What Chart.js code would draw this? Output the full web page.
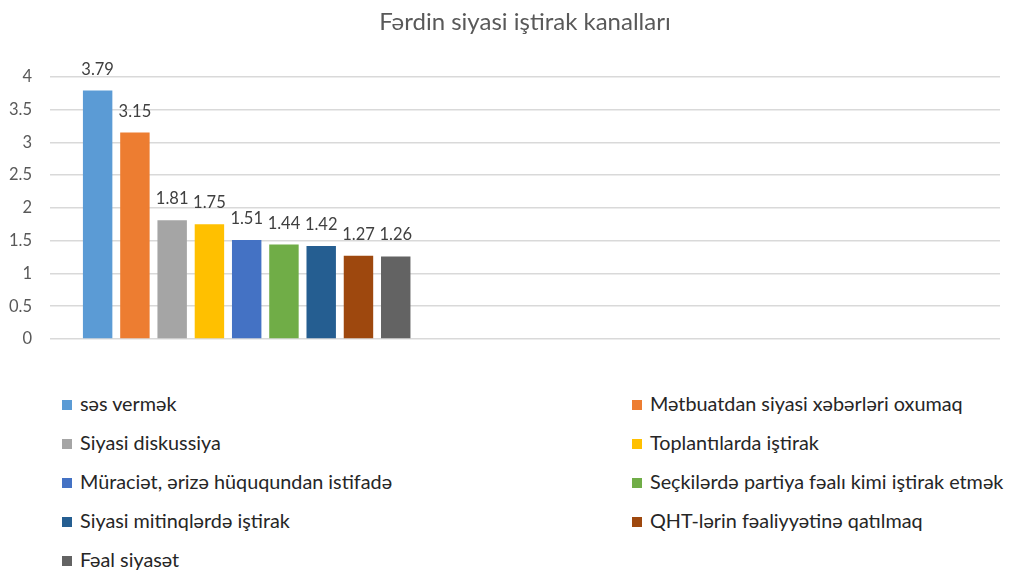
<!DOCTYPE html>
<html>
<head>
<meta charset="utf-8">
<script src="https://cdn.jsdelivr.net/npm/chart.js@4.4.0/dist/chart.umd.min.js"></script>
<style>
  body { margin: 0; background: #fff; }
  #wrap { position: relative; width: 1010px; height: 577px; }
  #chartBox { position: absolute; left: 0; top: 0; width: 1010px; height: 360px; }
  .item { position: absolute; height: 24px; line-height: 24px; font: 19.8px Lato, "Noto Sans", sans-serif; color: #262626; white-space: nowrap; }
  .item span.box { display: inline-block; width: 10px; height: 10px; margin-right: 8px; vertical-align: 1px; }
</style>
</head>
<body>
<div id="wrap">
  <div id="chartBox"><canvas id="grafico"></canvas></div>
  <div id="legend"></div>
</div>
<script>
// seriyalar (hər kanal ayrıca sütun)
const kanallar = [
  "səs vermək",
  "Mətbuatdan siyasi xəbərləri oxumaq",
  "Siyasi diskussiya",
  "Toplantılarda iştirak",
  "Müraciət, ərizə hüququndan istifadə",
  "Seçkilərdə partiya fəalı kimi iştirak etmək",
  "Siyasi mitinqlərdə iştirak",
  "QHT-lərin fəaliyyətinə qatılmaq",
  "Fəal siyasət"
];
const qiymetler = [3.79, 3.15, 1.81, 1.75, 1.51, 1.44, 1.42, 1.27, 1.26];
const rengler = ["#5B9BD5", "#ED7D31", "#A5A5A5", "#FFC000", "#4472C4", "#70AD47", "#255E91", "#9E480E", "#636363"];
const yTicks = [0, 0.5, 1, 1.5, 2, 2.5, 3, 3.5, 4];
const yTickLabels = ["0", "0.5", "1", "1.5", "2", "2.5", "3", "3.5", "4"];

const datasets = kanallar.map((ad, i) => ({
  label: ad,
  data: [{ x: 0, y: qiymetler[i] }],
  backgroundColor: rengler[i],
  categoryPercentage: 0.353,
  barPercentage: 0.79
}));

// dəyərləri sütunların üstündə yaz
const etiketler = {
  id: "etiketler",
  afterDatasetsDraw(chart) {
    const ctx = chart.ctx;
    ctx.save();
    ctx.font = "16.5px Lato, 'Noto Sans', sans-serif";
    ctx.fillStyle = "#404040";
    ctx.textAlign = "center";
    ctx.textBaseline = "alphabetic";
    chart.data.datasets.forEach((ds, i) => {
      const bar = chart.getDatasetMeta(i).data[0];
      ctx.fillText(ds.data[0].y.toFixed(2), bar.x, bar.y - 16);
    });
    ctx.restore();
  }
};

new Chart(document.getElementById("grafico"), {
  type: "bar",
  data: { datasets },
  plugins: [etiketler],
  options: {
    responsive: true,
    maintainAspectRatio: false,
    animation: false,
    layout: { padding: { left: 0, right: 10, bottom: 21 } },
    plugins: {
      legend: { display: false },
      tooltip: { enabled: false },
      title: {
        display: true,
        fullSize: false,
        text: "Fərdin siyasi iştirak kanalları",
        color: "#595959",
        font: { family: "Lato", size: 24, weight: 400 },
        padding: { top: 8, bottom: 40 }
      }
    },
    scales: {
      x: {
        type: "linear",
        min: -0.5,
        max: 1.915,
        offset: false,
        display: false,
        afterBuildTicks: s => { s.ticks = [{ value: 0 }]; }
      },
      y: {
        min: 0,
        max: 4,
        afterFit: s => { s.width = 50; },
        afterBuildTicks: s => { s.ticks = yTicks.map(v => ({ value: v })); },
        border: { display: false },
        grid: { color: "#d9d9d9", lineWidth: 1.5, drawTicks: true, tickLength: 18, tickColor: "rgba(0,0,0,0)" },
        ticks: {
          color: "#595959",
          padding: 0,
          font: { family: "Lato", size: 16.5 },
          callback: (v, i) => yTickLabels[i]
        }
      }
    }
  }
});

// iki sütunlu legend
const legend = document.getElementById("legend");
kanallar.forEach((ad, i) => {
  const el = document.createElement("div");
  el.className = "item";
  el.style.left = (i % 2 === 0 ? 62 : 632) + "px";
  el.style.top = (391 + 39 * Math.floor(i / 2)) + "px";
  el.innerHTML = '<span class="box" style="background:' + rengler[i] + '"></span>' + ad;
  legend.appendChild(el);
});
</script>
</body>
</html>
